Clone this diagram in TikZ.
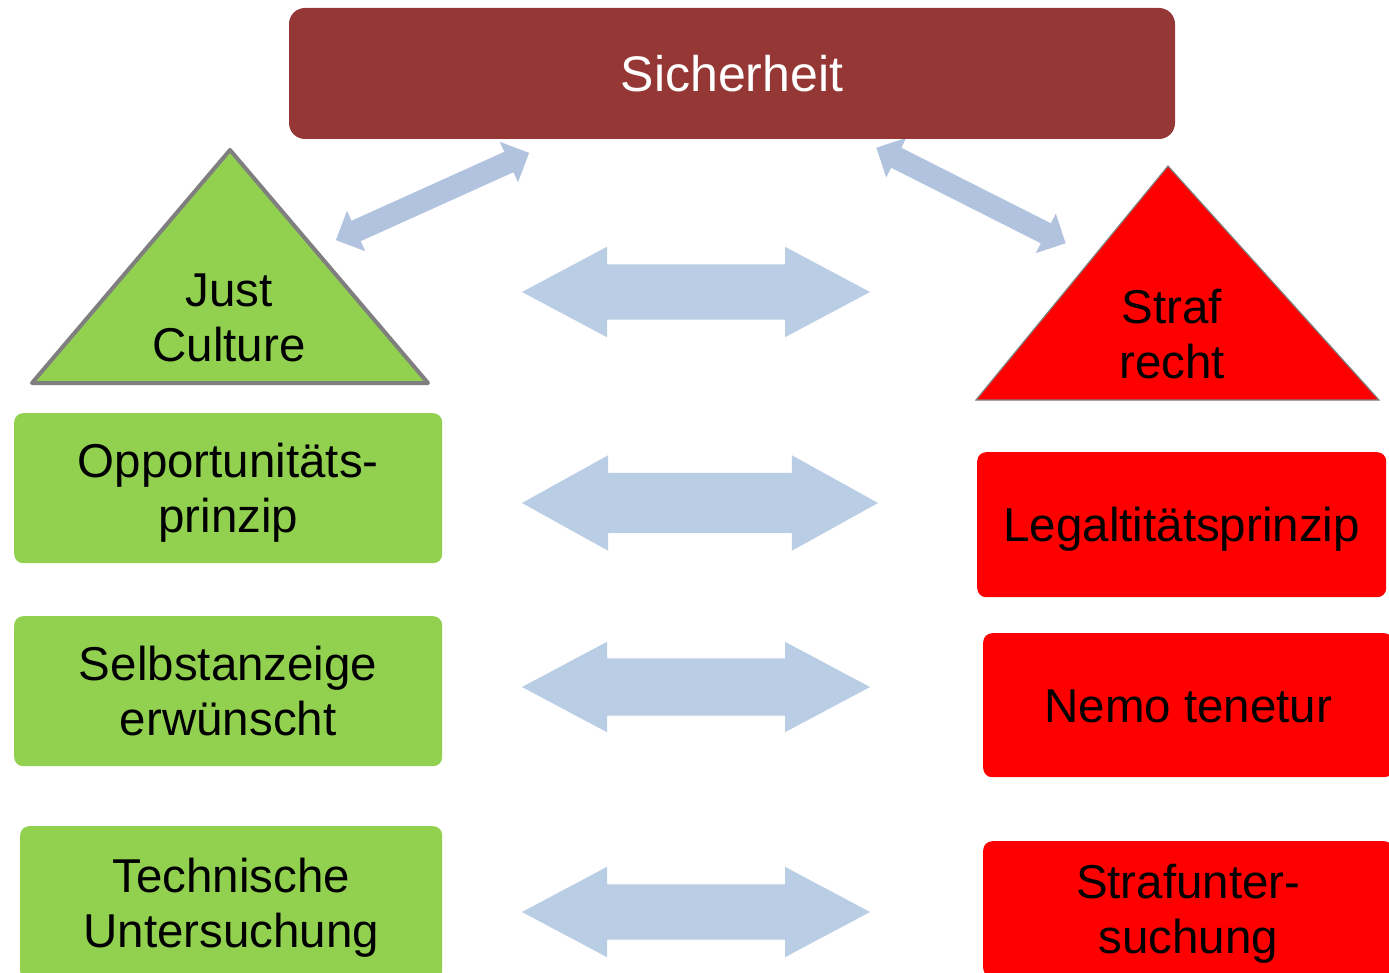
\documentclass[tikz,border=0pt]{standalone}
\usepackage{fontspec}
\setmainfont{Liberation Sans}
\usetikzlibrary{shapes.arrows}

\definecolor{jcgreen}{HTML}{92D050}
\definecolor{srred}{HTML}{FF0000}
\definecolor{sichred}{HTML}{953735}
\definecolor{arrowblue}{HTML}{B9CDE5}
\definecolor{diagblue}{HTML}{B1C3DF}
\definecolor{edgegray}{HTML}{7F7F7F}

% fixed line strut, so that all boxes centre their text alike
\newcommand{\ls}{\rule[-10.5pt]{0pt}{55pt}}

\begin{document}
\begin{tikzpicture}[x=1pt,y=-1pt,
    txt/.style={align=center, font=\fontsize{47.5}{55.5}\selectfont},
    greenbox/.style={txt, fill=jcgreen, rounded corners=9pt, inner sep=0pt,
        minimum width=428pt, minimum height=150pt, anchor=north west},
    redbox/.style={txt, fill=srred, rounded corners=9pt, inner sep=0pt,
        minimum width=409pt, minimum height=144pt, anchor=north west},
    bigarrow/.style={double arrow, fill=arrowblue, inner xsep=0pt, inner ysep=27.5pt,
        minimum height=348pt, double arrow head extend=17.5pt, double arrow tip angle=56},
    diagarrow/.style={double arrow, fill=diagblue, inner xsep=0pt, inner ysep=11pt,
        minimum height=212pt, double arrow head extend=11pt, double arrow tip angle=90}]

    \useasboundingbox (0,0) rectangle (1389,973);
    \clip (0,0) rectangle (1389,973);

    % --- Diagonal arrows (behind the banner) ---
    \node[diagarrow, rotate=24.3] (dleft) at (432.5,196.5) {};
    \node[diagarrow, rotate=-26.8] (dright) at (971,195.5) {};

    % --- Banner ---
    \node[txt, fill=sichred, text=white, rounded corners=16pt, inner sep=0pt,
        minimum width=886pt, minimum height=131pt,
        font=\fontsize{50}{60}\selectfont] (sich) at (732,73.5) {Sicherheit};

    % --- Triangles ---
    \draw[fill=jcgreen, draw=edgegray, line width=4pt, line join=round]
        (230,150) -- (428,383) -- (32,383) -- cycle;
    \node[txt] (jc) at (229,318) {Just\\Culture};
    \draw[fill=srred, draw=edgegray, line width=1.2pt]
        (1168,166) -- (1379,400) -- (976,400) -- cycle;
    \node[txt] (sr) at (1172,334) {Straf\\recht};

    % --- Left column ---
    \node[greenbox] (opp) at (14,413) {\ls Opportunitäts-\\\ls prinzip};
    \node[greenbox] (selbst) at (14,616) {\ls Selbstanzeige\\\ls erwünscht};
    \node[greenbox, minimum width=422pt, minimum height=154pt] (tech)
        at (20,826) {\ls Technische\\\ls Untersuchung};

    % --- Right column ---
    \node[redbox, minimum height=145pt] (legal) at (977,452) {\ls Legaltitätsprinzip};
    \node[redbox, minimum width=410pt] (nemo) at (983,633) {\ls Nemo tenetur};
    \node[redbox, minimum width=410pt, minimum height=136pt] (strafu)
        at (983,841) {\ls Strafunter-\\\ls suchung};

    % --- Horizontal arrows ---
    \node[bigarrow] (h1) at (696,292) {};
    \node[bigarrow, inner ysep=30pt, minimum height=356pt,
        double arrow tip angle=58] (h2) at (700,503) {};
    \node[bigarrow, inner ysep=28.5pt, double arrow head extend=16.5pt] (h3) at (696,687) {};
    \node[bigarrow] (h4) at (696,912) {};

\end{tikzpicture}
\end{document}
